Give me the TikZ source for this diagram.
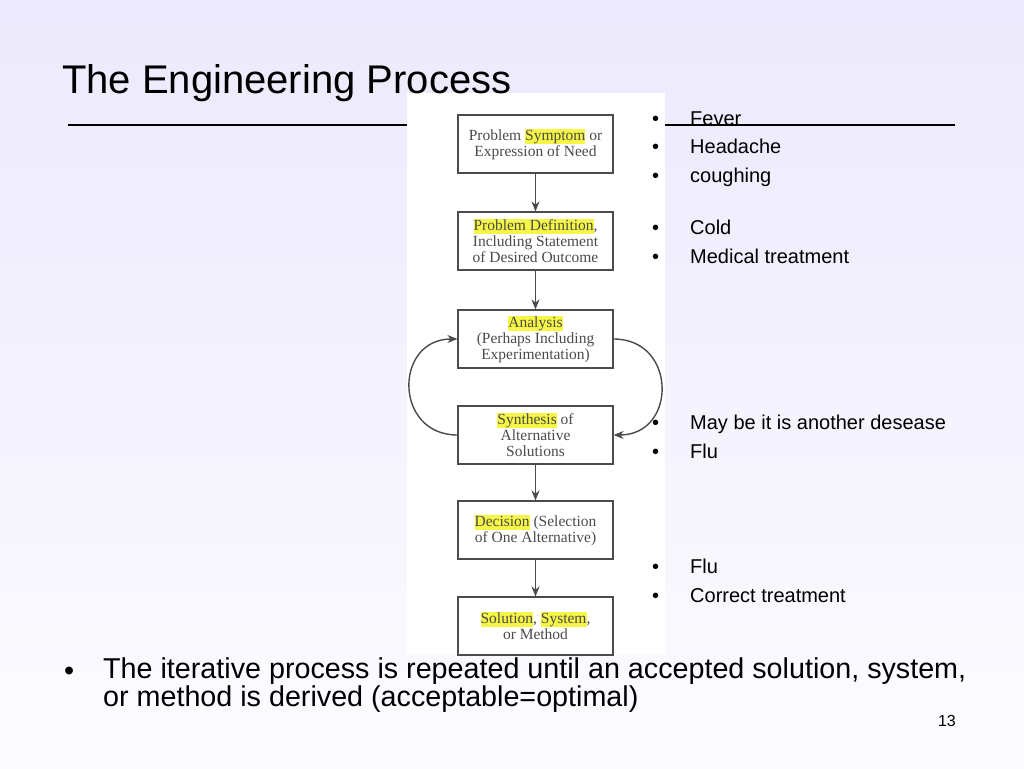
\documentclass[tikz,border=0pt]{standalone}
\usepackage{fontspec}
\setmainfont{Liberation Sans}
\newfontfamily\scanfont{Liberation Serif}
\usetikzlibrary{arrows.meta}
\definecolor{slidetop}{RGB}{236,233,252}
\definecolor{slidebottom}{RGB}{252,252,255}
\definecolor{scangray}{RGB}{75,75,75}
\definecolor{hilite}{RGB}{246,246,70}
\newcommand{\hlw}[1]{{\setlength{\fboxsep}{0pt}\colorbox{hilite}{\rule[-3.5pt]{0pt}{15pt}#1}}}
\tikzset{
  stage/.style={draw=scangray,line width=1.2pt,minimum width=155pt,minimum height=58pt,
    inner sep=2pt,align=center,text=scangray,font=\scanfont\fontsize{15.5}{16}\selectfont},
  flow/.style={scangray,line width=1.4pt,-{Stealth[length=10pt,width=8pt]}},
  item/.style={anchor=base west,inner sep=0pt,font=\fontsize{20}{24}\selectfont},
}
\begin{document}
\begin{tikzpicture}[x=1pt,y=-1pt]
                \useasboundingbox (0,0) rectangle (1024,768);
                \shade[top color=slidetop,bottom color=slidebottom] (0,0) rectangle (1024,768);
                \draw[line width=2pt] (68,125) -- (955,125);
                \fill[white] (407,93) rectangle (665,655);
                \node[anchor=base west,inner sep=0pt,font=\fontsize{40}{48}\selectfont] (title) at (62,93) {The Engineering Process};
                % the scanned flow chart
                \node[stage] (symptom) at (535.5,144) {Problem \hlw{Symptom} or\\Expression of Need};
                \node[stage] (definition) at (535.5,241) {\hlw{Problem Definition},\\Including Statement\\of Desired Outcome};
                \node[stage] (analysis) at (535.5,339) {\hlw{Analysis}\\(Perhaps Including\\Experimentation)};
                \node[stage] (synthesis) at (535.5,435) {\hlw{Synthesis} of\\Alternative\\Solutions};
                \node[stage] (decision) at (535.5,530) {\hlw{Decision} (Selection\\of One Alternative)};
                \node[stage] (solution) at (535.5,626) {\hlw{Solution}, \hlw{System},\\or Method};
                \draw[flow] (symptom) -- (definition);
                \draw[flow] (definition) -- (analysis);
                \draw[flow] (synthesis) -- (decision);
                \draw[flow] (decision) -- (solution);
                \draw[flow] (synthesis.west) to[out=180,in=180,looseness=1.7] (analysis.west);
                \draw[flow] (analysis.east) to[out=0,in=0,looseness=1.7] (synthesis.east);
                % notes beside the chart
                \node[item] (fever) at (652,125) {\makebox[38pt][l]{\textbullet}Fever};
                \node[item] (headache) at (652,153) {\makebox[38pt][l]{\textbullet}Headache};
                \node[item] (coughing) at (652,182) {\makebox[38pt][l]{\textbullet}coughing};
                \node[item] (cold) at (652,234) {\makebox[38pt][l]{\textbullet}Cold};
                \node[item] (medical) at (652,263) {\makebox[38pt][l]{\textbullet}Medical treatment};
                \node[item] (another) at (652,429) {\makebox[38pt][l]{\textbullet}May be it is another desease};
                \node[item] (flu) at (652,458) {\makebox[38pt][l]{\textbullet}Flu};
                \node[item] (flutoo) at (652,573) {\makebox[38pt][l]{\textbullet}Flu};
                \node[item] (correct) at (652,602) {\makebox[38pt][l]{\textbullet}Correct treatment};
                % summary line
                \node[anchor=base west,inner sep=0pt,font=\fontsize{28.7}{26}\selectfont] (dot) at (64,680) {\textbullet};
                \node[anchor=base west,inner sep=0pt,align=left,font=\fontsize{28.7}{26}\selectfont] (summary) at (103,706) {The iterative process is repeated until an accepted solution, system,\\or method is derived (acceptable=optimal)};
                \node[anchor=base east,inner sep=0pt,font=\fontsize{16}{19}\selectfont] (pagenum) at (956,726) {13};
\end{tikzpicture}
\end{document}
